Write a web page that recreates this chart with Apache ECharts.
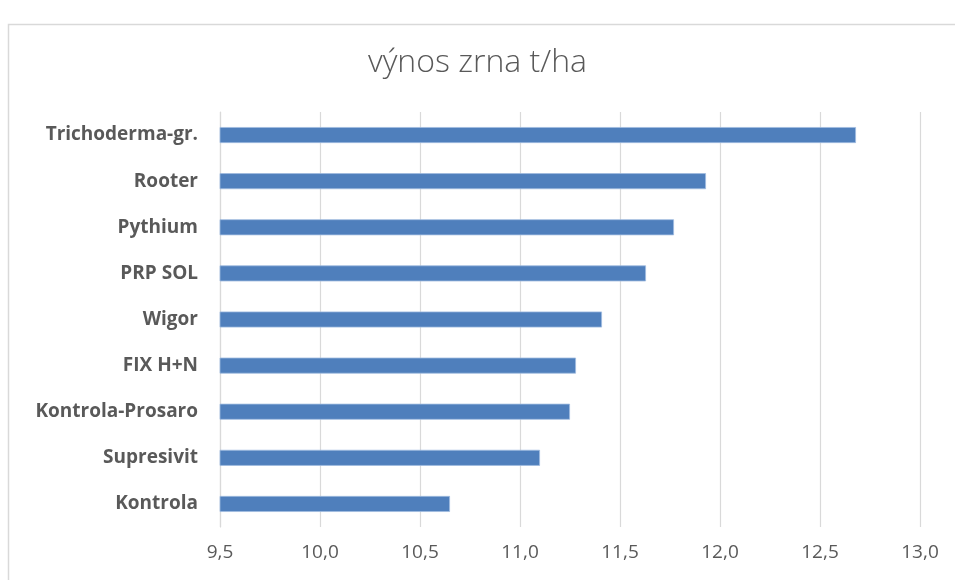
<!DOCTYPE html>
<html>
<head>
<meta charset="utf-8">
<script src="https://cdn.jsdelivr.net/npm/echarts@6/dist/echarts.min.js"></script>
<style>
  html, body { margin: 0; padding: 0; background: #fff; }
  #chart { width: 955px; height: 580px; }
</style>
</head>
<body>
<div id="chart"></div>
<script>
// kategorie shora dolů
var categories = ['Trichoderma-gr.', 'Rooter', 'Pythium', 'PRP SOL', 'Wigor', 'FIX H+N', 'Kontrola-Prosaro', 'Supresivit', 'Kontrola'];
// výnos zrna t/ha
var yieldValues = [12.68, 11.93, 11.77, 11.63, 11.41, 11.28, 11.25, 11.10, 10.65];
var axisMin = 9.5;
var axisMax = 13.0;
var axisStep = 0.5;

var chart = echarts.init(document.getElementById('chart'));

var option = {
	backgroundColor: '#ffffff',
	animation: false,
	title: {
		text: 'výnos zrna t/ha',
		left: 'center',
		top: 42,
		textStyle: {
			fontFamily: 'Open Sans',
			fontWeight: 300,
			fontSize: 32,
			color: '#595959'
		}
	},
	//rámeček grafu
	graphic: [{
		type: 'rect',
		shape: { x: 8.5, y: 24.5, width: 960, height: 600 },
		style: { fill: 'none', stroke: '#d9d9d9', lineWidth: 1.5 },
		silent: true,
		z: -1
	}],
	grid: {
		left: 220,
		right: 35,
		top: 112,
		bottom: 53
	},
	xAxis: {
		type: 'value',
		min: axisMin,
		max: axisMax,
		interval: axisStep,
		axisLine: { show: false },
		axisTick: { show: false },
		splitLine: { lineStyle: { color: '#d9d9d9', width: 1.2 } },
		axisLabel: {
			margin: 16,
			fontFamily: 'Open Sans',
			fontSize: 19,
			color: '#595959',
			formatter: function (v) {
				return v.toFixed(1).replace('.', ',');
			}
		}
	},
	yAxis: {
		type: 'category',
		data: categories,
		inverse: true,
		axisLine: { lineStyle: { color: '#d9d9d9', width: 1.2 } },
		axisTick: { show: false },
		axisLabel: {
			margin: 22,
			fontFamily: 'Open Sans',
			fontWeight: 'bold',
			fontSize: 19,
			color: '#595959'
		}
	},
	series: [{
		name: 'výnos zrna t/ha',
		type: 'bar',
		data: yieldValues,
		barWidth: 16,
		itemStyle: {
			color: '#4f7fbc',
			borderColor: '#9fbbe0',
			borderWidth: 0.8
		}
	}]
};

chart.setOption(option);
</script>
</body>
</html>
